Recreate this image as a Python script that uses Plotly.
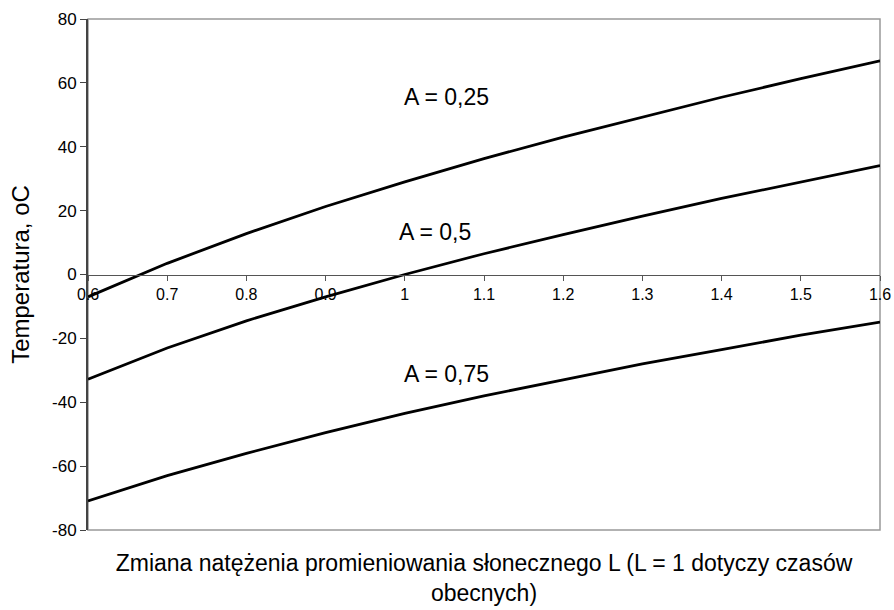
import plotly.graph_objects as go

L = [0.6, 0.7, 0.8, 0.9, 1.0, 1.1, 1.2, 1.3, 1.4, 1.5, 1.6]
t_a025 = [-7.0, 3.5, 12.8, 21.3, 29.0, 36.3, 43.0, 49.3, 55.5, 61.3, 66.9]
t_a050 = [-32.8, -23.0, -14.5, -7.0, 0.0, 6.5, 12.5, 18.3, 23.8, 29.0, 34.1]
t_a075 = [-70.9, -63.0, -56.0, -49.5, -43.5, -38.0, -33.0, -28.0, -23.5, -19.0, -14.9]
x_ticktext = ["0.6", "0.7", "0.8", "0.9", "1", "1.1", "1.2", "1.3", "1.4", "1.5", "1.6"]
y_tickvals = [-80, -60, -40, -20, 0, 20, 40, 60, 80]
y_ticktext = ["-80", "-60", "-40", "-20", "0", "20", "40", "60", "80"]
labels = ["A = 0,25", "A = 0,5", "A = 0,75"]
label_x = [1.053, 1.038, 1.053]
label_y = [55.7, 13.3, -31.2]

FONT = "Liberation Sans, Arial, sans-serif"

fig = go.Figure()
for ys in (t_a025, t_a050, t_a075):
    fig.add_trace(go.Scatter(x=L, y=ys, mode="lines",
                             line=dict(color="black", width=2.8),
                             showlegend=False, hoverinfo="skip"))
# invisible helper trace so the bottom title axis is drawn
fig.add_trace(go.Scatter(x=[None], y=[None], xaxis="x2", yaxis="y", mode="lines",
                         showlegend=False, hoverinfo="skip"))

for txt, xx, yy in zip(labels, label_x, label_y):
    fig.add_annotation(x=xx, y=yy, text=txt, showarrow=False,
                       font=dict(family=FONT, size=23, color="black"),
                       xanchor="center", yanchor="middle")

fig.update_layout(
    width=894, height=610,
    margin=dict(l=88, r=14, t=19, b=80, autoexpand=False),
    paper_bgcolor="white", plot_bgcolor="white",
    font=dict(family=FONT, color="black"),
    xaxis=dict(
        range=[0.6, 1.6], tickvals=L, ticktext=x_ticktext,
        anchor="free", position=0.5, automargin=False,
        showline=True, linecolor="#555555", linewidth=1,
        ticks="outside", ticklen=5, tickcolor="#555555",
        tickfont=dict(size=16, family=FONT, color="black"),
        showgrid=False, zeroline=False,
    ),
    xaxis2=dict(
        range=[0.6, 1.6], overlaying="x", anchor="y", side="bottom",
        showticklabels=False, ticks="", showgrid=False, zeroline=False,
        showline=False, automargin=False,
        title=dict(text="Zmiana natężenia promieniowania słonecznego L (L = 1 dotyczy czasów<br>obecnych)",
                   font=dict(size=23, family=FONT, color="black"), standoff=24),
    ),
    yaxis=dict(
        range=[-80, 80], tickvals=y_tickvals, ticktext=y_ticktext,
        showline=True, linecolor="#444444", linewidth=2, automargin=False,
        ticks="outside", ticklen=6, tickcolor="#444444",
        tickfont=dict(size=17, family=FONT, color="black"),
        showgrid=False, zeroline=False,
        title=dict(text="Temperatura, oC", font=dict(size=24, family=FONT, color="black"), standoff=16),
    ),
    shapes=[dict(type="rect", xref="paper", yref="paper", x0=0, x1=1, y0=0, y1=1,
                 line=dict(color="#999999", width=1.5), layer="below")],
)

fig.write_html("out.html")
